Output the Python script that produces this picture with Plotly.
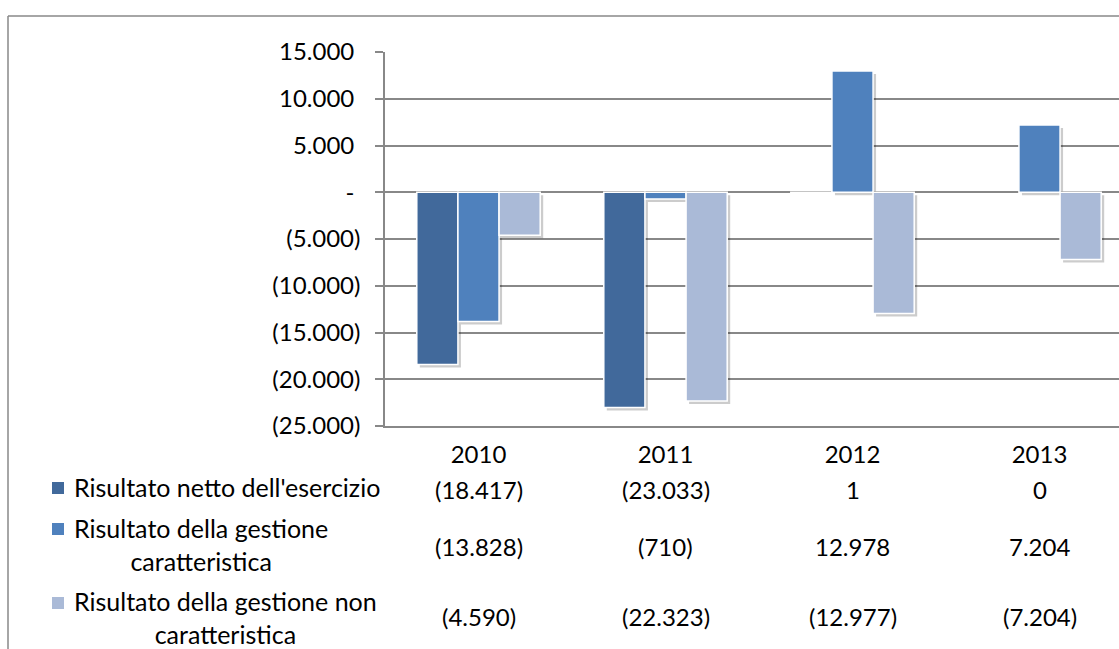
import plotly.graph_objects as go

# ---- data ----
years = ["2010", "2011", "2012", "2013"]
series_names = [
    "Risultato netto dell'esercizio",
    "Risultato della gestione<br>caratteristica",
    "Risultato della gestione non<br>caratteristica",
]
netto = [-18417, -23033, 1, 0]
caratteristica = [-13828, -710, 12978, 7204]
non_caratteristica = [-4590, -22323, -12977, -7204]
series_values = [netto, caratteristica, non_caratteristica]
y_ticks = [15000, 10000, 5000, 0, -5000, -10000, -15000, -20000, -25000]

colors = ["#41699B", "#4F81BD", "#AABAD7"]
GRID = "#888888"
FONT = "Lato"
FS_NUM = 24
FS_TXT = 25

# ---- geometry (pixels of the 1119x649 page) ----
W, H = 1119, 649
PL, PR, PT, PB = 385, 1119, 52, 426
CAT_W = 187.0


def px(x):
    return (x - PL) / (PR - PL)


def py(y):
    return (PB - y) / (PB - PT)


def fmt(v):
    s = f"{abs(v):,}".replace(",", ".")
    return f"({s})" if v < 0 else s


def tick_fmt(v):
    if v == 0:
        return "-\u00a0"
    return fmt(v) if v < 0 else fmt(v) + "\u00a0"


fig = go.Figure()

bargap = 0.34
bw = (1 - bargap) / 3
offsets = [-1.5 * bw, -0.5 * bw, 0.5 * bw]
yrange = [-25000, 15000]
units_per_px = (yrange[1] - yrange[0]) / (PB - PT)
shadow_dx = 3 / CAT_W
shadow_dy = 3 * units_per_px

# soft drop shadows underneath the bars (none for empty bars)
for vals, off in zip(series_values, offsets):
    fig.add_trace(go.Bar(
        x=years, y=vals, base=-shadow_dy, width=bw, offset=off + shadow_dx,
        marker=dict(color=["rgba(0,0,0,0.2)" if v != 0 else "rgba(0,0,0,0)" for v in vals],
                    line=dict(width=0)),
        hoverinfo="skip", showlegend=False,
    ))

for name, vals, off, col in zip(series_names, series_values, offsets, colors):
    fig.add_trace(go.Bar(
        x=years, y=vals, width=bw, offset=off, name=name.replace("<br>", " "),
        marker=dict(color=col,
                    line=dict(color="white", width=[1.5 if v != 0 else 0 for v in vals])),
        showlegend=False,
    ))

# ---- data table below the axis ----
value_y = [489, 546, 616]
label_y = [487, 544, 617]
key_y = [488, 529, 603]
annotations = []
shapes = []
for i, (name, vals) in enumerate(zip(series_names, series_values)):
    for j, v in enumerate(vals):
        annotations.append(dict(
            x=j, xref="x", y=py(value_y[i]), yref="paper",
            text=fmt(v), showarrow=False, xanchor="center", yanchor="middle",
            font=dict(family=FONT, size=FS_NUM, color="black"),
        ))
    annotations.append(dict(
        x=px(72), xref="paper", y=py(label_y[i]), yref="paper",
        text=name, showarrow=False, xanchor="left", yanchor="middle",
        align="center", font=dict(family=FONT, size=FS_TXT, color="black"),
    ))
    shapes.append(dict(
        type="rect", xref="paper", yref="paper",
        x0=px(52), x1=px(64), y0=py(key_y[i] + 6), y1=py(key_y[i] - 6),
        fillcolor=colors[i], line=dict(width=0),
    ))

# chart frame (top and left edges)
shapes.append(dict(type="line", xref="paper", yref="paper",
                   x0=px(8), x1=px(W + 5), y0=py(16), y1=py(16),
                   line=dict(color=GRID, width=1.5)))
shapes.append(dict(type="line", xref="paper", yref="paper",
                   x0=px(8), x1=px(8), y0=py(16), y1=py(H + 5),
                   line=dict(color=GRID, width=1.5)))

fig.update_layout(
    width=W, height=H,
    margin=dict(l=PL, r=W - PR, t=PT, b=H - PB),
    barmode="overlay",
    plot_bgcolor="white", paper_bgcolor="white",
    showlegend=False,
    font=dict(family=FONT, size=FS_NUM, color="black"),
    xaxis=dict(
        type="category", categoryorder="array", categoryarray=years,
        range=[-0.5, (PR - PL) / CAT_W - 0.5],
        showline=True, linecolor=GRID, linewidth=1.5,
        showgrid=False, ticks="", ticklabelstandoff=6,
        tickfont=dict(family=FONT, size=FS_NUM, color="black"),
    ),
    yaxis=dict(
        range=yrange, tickvals=y_ticks, ticktext=[tick_fmt(v) for v in y_ticks],
        showgrid=True, gridcolor=GRID, gridwidth=1.5, zeroline=False,
        showline=True, linecolor=GRID, linewidth=1.5,
        ticks="outside", ticklen=8, tickcolor=GRID, tickwidth=1.5,
        ticklabelstandoff=10,
        tickfont=dict(family=FONT, size=FS_NUM, color="black"),
    ),
    annotations=annotations,
    shapes=shapes,
)

fig.write_html("out.html")
